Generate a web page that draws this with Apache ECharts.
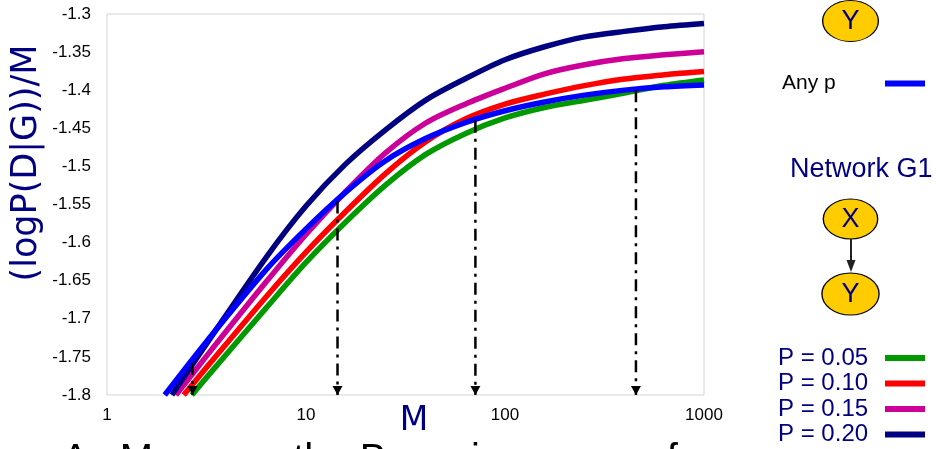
<!DOCTYPE html>
<html>
<head>
<meta charset="utf-8">
<script src="https://cdn.jsdelivr.net/npm/echarts@6/dist/echarts.min.js"></script>
<style>
html,body{margin:0;padding:0;background:#fff;}
#c{width:936px;height:449px;}
</style>
</head>
<body>
<div id="c"></div>
<script>
// ---- data ----
const seriesNames = ['P = 0.05', 'P = 0.10', 'P = 0.15', 'P = 0.20', 'Any p'];
const seriesColors = ['#009900', '#ff0000', '#cc0099', '#000080', '#0000ff'];

// sample sizes M at which the curves were read (after each curve's own start point)
const mGrid = [3.16, 6.31, 10, 15.8, 25.1, 39.8, 63.1, 100, 158, 251, 398, 631, 1000];

// M where each curve enters the plot at y = -1.8
const mStart = [2.67, 2.43, 2.22, 2.12, 1.95];
const vStart = -1.8;

const vGreen   = [-1.7772, -1.6857, -1.626, -1.5732, -1.5245, -1.4845, -1.457, -1.4364, -1.4227, -1.4133, -1.4037, -1.3936, -1.3865];
const vRed     = [-1.764, -1.671, -1.6125, -1.5595, -1.5094, -1.468, -1.4379, -1.4183, -1.4052, -1.394, -1.3853, -1.3798, -1.3756];
const vMagenta = [-1.749, -1.6515, -1.5893, -1.5333, -1.4823, -1.4434, -1.4183, -1.3975, -1.3785, -1.3667, -1.3585, -1.3536, -1.3495];
const vNavy    = [-1.733, -1.6193, -1.552, -1.497, -1.452, -1.4133, -1.385, -1.360, -1.343, -1.330, -1.3228, -1.3168, -1.3126];
const vBlue    = [-1.730, -1.6355, -1.582, -1.534, -1.4925, -1.4635, -1.4425, -1.427, -1.4155, -1.4065, -1.3999, -1.3955, -1.3931];

const arrowM = [2.69, 14.4, 71, 455];
const arrowTop = [-1.758, -1.546, -1.440, -1.400];
const arrowBottom = -1.8;

const xTickLabels = ['1', '10', '100', '1000'];
const yMin = -1.8, yMax = -1.3, yStep = 0.05;

const NAVY_TEXT = '#000080';

// ---- build (x is drawn on a log10 scale) ----
const lg = (m) => Math.log10(m);
const allV = [vGreen, vRed, vMagenta, vNavy, vBlue];

const curveSeries = seriesNames.map((name, i) => ({
  name: name,
  type: 'line',
  data: [[lg(mStart[i]), vStart]].concat(mGrid.map((m, j) => [lg(m), allV[i][j]])),
  smooth: 0.3,
  showSymbol: false,
  symbol: 'none',
  color: seriesColors[i],
  lineStyle: { width: 5.5, color: seriesColors[i], cap: 'butt' },
  clip: true,
  silent: true
}));

const arrowSeries = arrowM.map((m, i) => ({
  name: 'arrow' + i,
  type: 'line',
  data: [
    { value: [lg(m), arrowTop[i]], symbol: 'none' },
    { value: [lg(m), arrowBottom], symbol: 'triangle', symbolSize: [10, 9], symbolRotate: 180, symbolOffset: [0, -4.5] }
  ],
  showSymbol: true,
  color: '#000',
  itemStyle: { color: '#000' },
  lineStyle: { width: 2.5, color: '#000', type: [12, 6, 3, 6] },
  silent: true,
  z: 3
}));

const chart = echarts.init(document.getElementById('c'), null, { renderer: 'canvas' });

chart.setOption({
  animation: false,
  backgroundColor: '#fff',
  grid: { left: 107, right: 232, top: 14, bottom: 54, show: true, borderColor: '#d4d4d4', borderWidth: 1, backgroundColor: 'transparent' },
  xAxis: {
    type: 'value', min: 0, max: xTickLabels.length - 1, interval: 1,
    axisLine: { show: false }, axisTick: { show: false }, splitLine: { show: false },
    axisLabel: { color: '#000', fontSize: 17, fontFamily: 'Liberation Sans', margin: 12,
      formatter: (v) => xTickLabels[Math.round(v)] }
  },
  yAxis: {
    type: 'value', min: yMin, max: yMax, interval: yStep,
    axisLine: { show: false }, axisTick: { show: false }, splitLine: { show: false },
    axisLabel: { color: '#000', fontSize: 17, fontFamily: 'Liberation Sans', margin: 16 }
  },
  legend: [
    {
      data: ['Any p'],
      left: 777, top: 68,
      align: 'right',
      icon: 'rect', itemWidth: 40, itemHeight: 6,
      formatter: '{a|{name}}',
      textStyle: { rich: { a: { width: 98, align: 'left', fontSize: 21, fontFamily: 'Liberation Sans', color: '#000' } } },
      selectedMode: false
    },
    {
      data: ['P = 0.05', 'P = 0.10', 'P = 0.15', 'P = 0.20'],
      orient: 'vertical',
      left: 773, top: 341, height: 130,
      align: 'right',
      icon: 'rect', itemWidth: 40, itemHeight: 6, itemGap: 1.5,
      formatter: '{b|{name}}',
      textStyle: { rich: { b: { width: 102, align: 'left', fontSize: 24, lineHeight: 26, fontFamily: 'Liberation Sans', color: NAVY_TEXT } } },
      selectedMode: false
    }
  ],
  graphic: [
    // y axis title
    { type: 'text', x: 27, y: 163, rotation: Math.PI / 2,
      style: { text: '(logP(D|G))/M', font: '35px "DejaVu Sans"', fill: NAVY_TEXT, align: 'center', verticalAlign: 'middle', textAlign: 'center', textVerticalAlign: 'middle' } },
    // x axis title
    { type: 'text', x: 414, y: 421,
      style: { text: 'M', font: '33px "DejaVu Sans"', fill: NAVY_TEXT, align: 'center', verticalAlign: 'middle', textAlign: 'center', textVerticalAlign: 'middle' } },
    // Network G0 node
    { type: 'circle', x: 850.5, y: 21, scaleX: 1.36, shape: { cx: 0, cy: 0, r: 20.5 },
      style: { fill: '#FFCC00', stroke: '#000', lineWidth: 1, strokeNoScale: true } },
    { type: 'text', x: 850.5, y: 22,
      style: { text: 'Y', font: '27px "Liberation Sans"', fill: NAVY_TEXT, align: 'center', verticalAlign: 'middle', textAlign: 'center', textVerticalAlign: 'middle' } },
    // Network G1 title
    { type: 'text', x: 790, y: 170,
      style: { text: 'Network G1', font: '27px "Liberation Sans"', fill: NAVY_TEXT, align: 'left', verticalAlign: 'middle', textAlign: 'left', textVerticalAlign: 'middle' } },
    // X node
    { type: 'circle', x: 850.5, y: 219, scaleX: 1.36, shape: { cx: 0, cy: 0, r: 20 },
      style: { fill: '#FFCC00', stroke: '#000', lineWidth: 1, strokeNoScale: true } },
    { type: 'text', x: 850.5, y: 220,
      style: { text: 'X', font: '27px "Liberation Sans"', fill: NAVY_TEXT, align: 'center', verticalAlign: 'middle', textAlign: 'center', textVerticalAlign: 'middle' } },
    // arrow X -> Y
    { type: 'line', shape: { x1: 851, y1: 239, x2: 851, y2: 262 }, style: { stroke: '#222', lineWidth: 2 } },
    { type: 'polygon', shape: { points: [[846.5, 260], [855.5, 260], [851, 272]] }, style: { fill: '#222' } },
    // Y node
    { type: 'circle', x: 850.5, y: 294, scaleX: 1.36, shape: { cx: 0, cy: 0, r: 21 },
      style: { fill: '#FFCC00', stroke: '#000', lineWidth: 1, strokeNoScale: true } },
    { type: 'text', x: 850.5, y: 295,
      style: { text: 'Y', font: '27px "Liberation Sans"', fill: NAVY_TEXT, align: 'center', verticalAlign: 'middle', textAlign: 'center', textVerticalAlign: 'middle' } },
    // cut-off slide text at bottom
    { type: 'text', x: 62, y: 461,
      style: { text: 'As M grows, the Bayesian score of', font: '40px "Liberation Sans"', fill: '#000', align: 'left', verticalAlign: 'middle', textAlign: 'left', textVerticalAlign: 'middle' } }
  ],
  series: curveSeries.concat(arrowSeries)
});
</script>
</body>
</html>
